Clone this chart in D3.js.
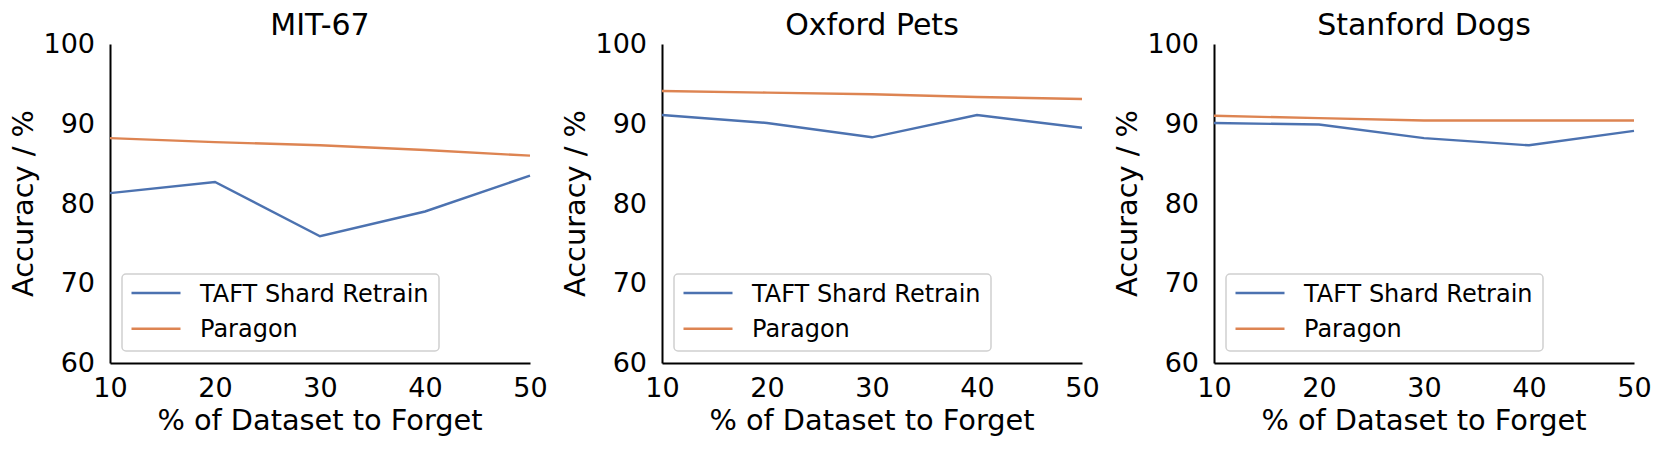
<!doctype html>
<html>
<head>
<meta charset="utf-8">
<script src="https://d3js.org/d3.v7.min.js"></script>
<style>
  body { margin: 0; background: #fff; }
  text { font-family: "DejaVu Sans", sans-serif; fill: #000; }
</style>
</head>
<body>
<script>

// data
var forgetPct = [10, 20, 30, 40, 50];
var titles = ["MIT-67", "Oxford Pets", "Stanford Dogs"];
var taftMit = [81.3, 82.7, 75.9, 79.0, 83.5];
var paragonMit = [88.2, 87.7, 87.3, 86.7, 86.0];
var taftPets = [91.1, 90.1, 88.3, 91.1, 89.5];
var paragonPets = [94.1, 93.9, 93.7, 93.35, 93.1];
var taftDogs = [90.1, 89.9, 88.2, 87.3, 89.1];
var paragonDogs = [91.0, 90.7, 90.4, 90.4, 90.4];
var yTicks = [60, 70, 80, 90, 100];
var seriesNames = ["TAFT Shard Retrain", "Paragon"];
var colors = ["#4c72b0", "#dd8452"];

var panels = [
  {title: titles[0], series: [taftMit, paragonMit]},
  {title: titles[1], series: [taftPets, paragonPets]},
  {title: titles[2], series: [taftDogs, paragonDogs]}
];

var width = 420, height = 319,
    top0 = 44, lefts = [110, 662, 1214];

var svg = d3.select("body").append("svg")
    .attr("width", 1661)
    .attr("height", 450);

var xScale = d3.scaleLinear().domain([10, 50]).range([0, width]),
    yScale = d3.scaleLinear().domain([60, 100]).range([height, 0]);

var line = d3.line()
    .x(function(d, i) { return xScale(forgetPct[i]); })
    .y(function(d) { return yScale(d); });

panels.forEach(function(p, k) {
    var g = svg.append("g")
        .attr("transform", "translate(" + lefts[k] + "," + top0 + ")");

    // x axis
    var xa = g.append("g")
        .attr("transform", "translate(0," + height + ")")
        .call(d3.axisBottom(xScale).tickValues(forgetPct).tickSize(0).tickPadding(15).tickFormat(d3.format("d")));
    xa.select(".domain").attr("stroke", "#000").attr("stroke-width", 2);
    xa.selectAll("text").attr("font-size", "27px").attr("font-family", "DejaVu Sans").attr("fill", "#000");

    // y axis
    var ya = g.append("g")
        .call(d3.axisLeft(yScale).tickValues(yTicks).tickSize(0).tickPadding(15));
    ya.select(".domain").attr("stroke", "#000").attr("stroke-width", 2);
    ya.selectAll("text").attr("font-size", "27px").attr("font-family", "DejaVu Sans").attr("fill", "#000");

    g.append("text")
        .attr("x", width / 2)
        .attr("y", 35 - top0)
        .attr("text-anchor", "middle")
        .attr("font-size", "30px")
        .text(p.title);

    g.append("text")
        .attr("x", width / 2)
        .attr("y", 430 - top0)
        .attr("text-anchor", "middle")
        .attr("font-size", "28.8px")
        .text("% of Dataset to Forget");

    g.append("text")
        .attr("transform", "translate(-77," + (height / 2) + ") rotate(-90)")
        .attr("text-anchor", "middle")
        .attr("font-size", "28.8px")
        .text("Accuracy / %");

    p.series.forEach(function(s, j) {
        g.append("path")
            .datum(s)
            .attr("fill", "none")
            .attr("stroke", colors[j])
            .attr("stroke-width", 2.4)
            .attr("d", line);
    });

    // legend
    var lg = g.append("g").attr("transform", "translate(12," + (274 - top0) + ")");
    lg.append("rect")
        .attr("width", 317)
        .attr("height", 77)
        .attr("rx", 4)
        .attr("fill", "#fff")
        .attr("fill-opacity", 0.8)
        .attr("stroke", "#d0d0d0")
        .attr("stroke-width", 1.5);
    seriesNames.forEach(function(name, j) {
        var ly = 19 + j * 35.7;
        lg.append("line")
            .attr("x1", 9.5).attr("x2", 58.5)
            .attr("y1", ly).attr("y2", ly)
            .attr("stroke", colors[j])
            .attr("stroke-width", 2.4);
        lg.append("text")
            .attr("x", 78)
            .attr("y", ly + 8.5)
            .attr("font-size", "24px")
            .text(name);
    });
});
</script>
</body>
</html>
